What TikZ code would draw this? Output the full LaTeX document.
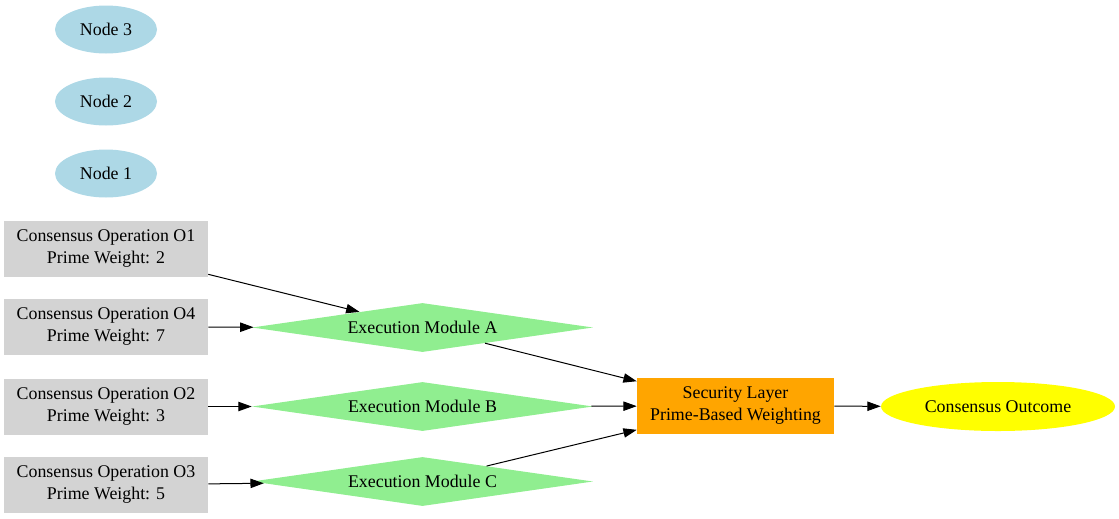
\documentclass[tikz,border=0pt]{standalone}
\usepackage{fontspec}
\setmainfont{Liberation Serif}
\usetikzlibrary{arrows.meta,shapes.geometric}

\definecolor{peerblue}{HTML}{ADD8E6}
\definecolor{opgray}{HTML}{D3D3D3}
\definecolor{modgreen}{HTML}{90EE90}
\definecolor{secorange}{HTML}{FFA500}
\definecolor{outyellow}{HTML}{FFFF00}

\tikzset{
  base/.style={font=\fontsize{13.4}{16.5}\selectfont, align=center, inner sep=0pt},
  peer/.style={base, ellipse, fill=peerblue, minimum width=76.5pt, minimum height=36pt},
  opbox/.style={base, rectangle, fill=opgray, minimum width=153pt, minimum height=42pt},
  module/.style={base, diamond, aspect=7, fill=modgreen, minimum width=255.75pt, minimum height=36.75pt},
  seclayer/.style={base, rectangle, fill=secorange, minimum width=147.75pt, minimum height=42pt},
  outcome/.style={base, ellipse, fill=outyellow, minimum width=175.5pt, minimum height=36.75pt},
  flow/.style={line width=0.75pt, -{Triangle[length=10pt,width=7pt]}}
}

\begin{document}
\begin{tikzpicture}[x=0.75pt,y=-0.75pt]

  % canvas
  \useasboundingbox (0,0) rectangle (1119,518);

  % peers
  \foreach \k/\y in {3/29.5,2/101.5,1/173.5} {
      \node[peer] (n\k) at (106,\y) {Node \k};
    }

  % consensus operations
  \foreach \k/\w/\y in {1/2/249,4/7/327,2/3/406.5,3/5/485} {
      \node[opbox] (o\k) at (106,\y) {Consensus Operation O\k\\Prime Weight: \w};
    }

  % execution modules
  \foreach \m/\y in {A/327.5,B/406.5,C/481.5} {
      \node[module] (m\m) at (422.5,\y) {Execution Module \m};
    }

  \node[seclayer] (sec) at (735.5,406) {Security Layer\\Prime-Based Weighting};
  \node[outcome] (out) at (998,406.5) {Consensus Outcome};

  % edges
  \draw[flow] (o1) -- (mA);
  \draw[flow] (o4) -- (mA);
  \draw[flow] (o2) -- (mB);
  \draw[flow] (o3) -- (mC);
  \foreach \m in {A,B,C} {
      \draw[flow] (m\m) -- (sec);
    }
  \draw[flow] (sec) -- (out);
\end{tikzpicture}
\end{document}
